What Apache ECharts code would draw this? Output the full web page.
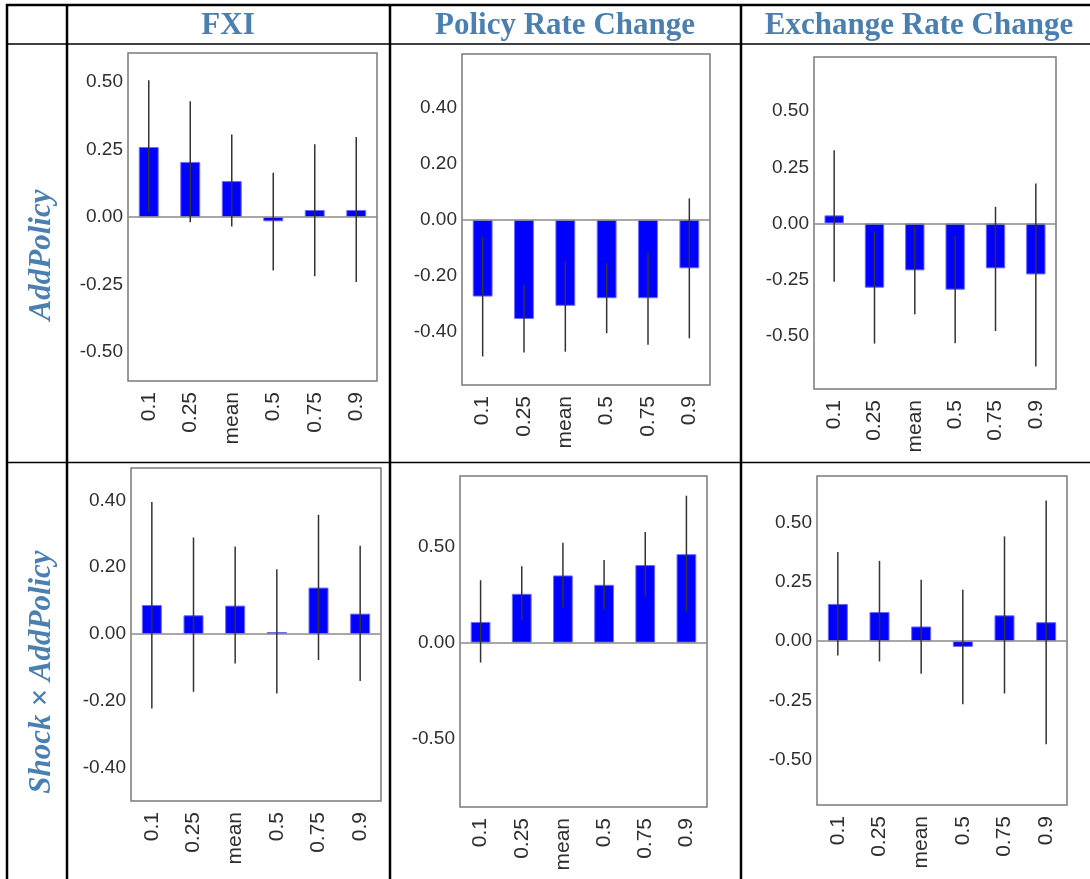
<!DOCTYPE html>
<html><head><meta charset="utf-8">
<script src="https://cdn.jsdelivr.net/npm/echarts@6/dist/echarts.min.js"></script>
<style>html,body{margin:0;padding:0;background:#fff}#c{width:1090px;height:879px}</style>
</head><body><div id="c"></div>
<script>
const categories = ['0.1', '0.25', 'mean', '0.5', '0.75', '0.9'];
const columnTitles = ['FXI', 'Policy Rate Change', 'Exchange Rate Change'];
const rowTitles = ['AddPolicy', 'Shock \u00d7 AddPolicy'];

// Row 1: AddPolicy
const fxiAddEst = [0.259, 0.204, 0.133, -0.016, 0.026, 0.026];
const fxiAddLo  = [0.019, -0.019, -0.035, -0.198, -0.219, -0.241];
const fxiAddHi  = [0.506, 0.428, 0.305, 0.164, 0.269, 0.296];
const fxiAddTicks = [-0.5, -0.25, 0, 0.25, 0.5];

const rateAddEst = [-0.274, -0.354, -0.307, -0.280, -0.280, -0.173];
const rateAddLo  = [-0.488, -0.474, -0.471, -0.405, -0.446, -0.423];
const rateAddHi  = [-0.060, -0.232, -0.145, -0.155, -0.117, 0.077];
const rateAddTicks = [-0.4, -0.2, 0, 0.2, 0.4];

const exAddEst = [0.036, -0.286, -0.209, -0.295, -0.200, -0.227];
const exAddLo  = [-0.259, -0.535, -0.404, -0.533, -0.479, -0.637];
const exAddHi  = [0.326, -0.034, -0.015, -0.056, 0.074, 0.178];
const exAddTicks = [-0.5, -0.25, 0, 0.25, 0.5];

// Row 2: Shock x AddPolicy
const fxiShockEst = [0.087, 0.056, 0.085, 0.006, 0.139, 0.061];
const fxiShockLo  = [-0.223, -0.173, -0.088, -0.178, -0.078, -0.141];
const fxiShockHi  = [0.395, 0.289, 0.262, 0.194, 0.357, 0.264];
const fxiShockTicks = [-0.4, -0.2, 0, 0.2, 0.4];

const rateShockEst = [0.108, 0.255, 0.351, 0.302, 0.405, 0.462];
const rateShockLo  = [-0.104, 0.118, 0.184, 0.174, 0.240, 0.163];
const rateShockHi  = [0.326, 0.399, 0.521, 0.431, 0.578, 0.767];
const rateShockTicks = [-0.5, 0, 0.5];

const exShockEst = [0.157, 0.123, 0.062, -0.024, 0.109, 0.080];
const exShockLo  = [-0.060, -0.085, -0.137, -0.265, -0.220, -0.433];
const exShockHi  = [0.375, 0.338, 0.259, 0.217, 0.441, 0.592];
const exShockTicks = [-0.5, -0.25, 0, 0.25, 0.5];

const panels = [
  {est: fxiAddEst, lo: fxiAddLo, hi: fxiAddHi, ticks: fxiAddTicks, min: -0.607, max: 0.607,
   grid: {left: 128, top: 53, width: 249, height: 328}},
  {est: rateAddEst, lo: rateAddLo, hi: rateAddHi, ticks: rateAddTicks, min: -0.59, max: 0.593,
   grid: {left: 462, top: 54, width: 248, height: 331}},
  {est: exAddEst, lo: exAddLo, hi: exAddHi, ticks: exAddTicks, min: -0.737, max: 0.741,
   grid: {left: 814, top: 57, width: 242, height: 332}},
  {est: fxiShockEst, lo: fxiShockLo, hi: fxiShockHi, ticks: fxiShockTicks, min: -0.5, max: 0.497,
   grid: {left: 131, top: 468, width: 250, height: 333}},
  {est: rateShockEst, lo: rateShockLo, hi: rateShockHi, ticks: rateShockTicks, min: -0.858, max: 0.87,
   grid: {left: 460, top: 476, width: 247, height: 331}},
  {est: exShockEst, lo: exShockLo, hi: exShockHi, ticks: exShockTicks, min: -0.689, max: 0.695,
   grid: {left: 817, top: 476, width: 250, height: 329}}
];

const chart = echarts.init(document.getElementById('c'));
const headColor = '#4a7fb0';
const serif = '"Liberation Serif", "Times New Roman", serif';

const grids = [], xAxes = [], yAxes = [], series = [];
panels.forEach((p, i) => {
  grids.push(Object.assign({show: true, borderColor: '#7a7a7a', borderWidth: 1.5, containLabel: false}, p.grid));
  xAxes.push({
    type: 'category', gridIndex: i, data: categories,
    axisLine: {show: false}, axisTick: {show: false}, splitLine: {show: false},
    axisLabel: {rotate: 90, margin: 11, fontSize: 21, color: '#2e2e2e',
      fontFamily: '"Liberation Sans", Arial, sans-serif', interval: 0}
  });
  yAxes.push({
    type: 'value', gridIndex: i, min: p.min, max: p.max,
    axisLine: {show: false}, splitLine: {show: false},
    axisTick: {show: false, customValues: p.ticks},
    axisLabel: {customValues: p.ticks, margin: 5, fontSize: 19, color: '#2e2e2e',
      fontFamily: '"Liberation Sans", Arial, sans-serif',
      formatter: v => v.toFixed(2)}
  });
  series.push({
    type: 'bar', xAxisIndex: i, yAxisIndex: i, data: p.est, barWidth: '48%',
    itemStyle: {color: '#0000ff', borderColor: '#6b6bff', borderWidth: 1},
    silent: true,
    markLine: {silent: true, symbol: 'none', label: {show: false},
      lineStyle: {color: '#8a8a8a', width: 1.5, type: 'solid'}, data: [{yAxis: 0}]}
  });
  series.push({
    type: 'custom', xAxisIndex: i, yAxisIndex: i, silent: true, z: 10,
    data: categories.map((c, j) => [j, p.lo[j], p.hi[j]]),
    encode: {x: 0, y: [1, 2]},
    renderItem: (params, api) => {
      const a = api.coord([api.value(0), api.value(1)]);
      const b = api.coord([api.value(0), api.value(2)]);
      return {type: 'line', shape: {x1: a[0], y1: a[1], x2: b[0], y2: b[1]},
        style: {stroke: '#333', lineWidth: 1.5}};
    }
  });
});

const lineStyle = w => ({stroke: '#000', lineWidth: w});
const graphics = [
  {type: 'line', shape: {x1: 6, y1: 5, x2: 1090, y2: 5}, style: lineStyle(2.5)},
  {type: 'line', shape: {x1: 6, y1: 44, x2: 1090, y2: 44}, style: lineStyle(1.5)},
  {type: 'line', shape: {x1: 6, y1: 462.5, x2: 1090, y2: 462.5}, style: lineStyle(1.5)},
  {type: 'line', shape: {x1: 7, y1: 4, x2: 7, y2: 879}, style: lineStyle(2.5)},
  {type: 'line', shape: {x1: 67, y1: 4, x2: 67, y2: 879}, style: lineStyle(2.5)},
  {type: 'line', shape: {x1: 390, y1: 4, x2: 390, y2: 879}, style: lineStyle(2.5)},
  {type: 'line', shape: {x1: 741, y1: 4, x2: 741, y2: 879}, style: lineStyle(2.5)}
];
const colCenters = [228, 565, 919];
columnTitles.forEach((t, i) => graphics.push({
  type: 'text', x: colCenters[i], y: 26,
  style: {text: t, font: 'bold 31px ' + serif, fill: headColor, textAlign: 'center', textVerticalAlign: 'middle'}
}));
const rowCenters = [255, 672];
rowTitles.forEach((t, i) => graphics.push({
  type: 'text', x: 42, y: rowCenters[i], rotation: Math.PI / 2,
  style: {text: t, font: 'italic bold 31px ' + serif, fill: headColor, textAlign: 'center', textVerticalAlign: 'middle'}
}));

chart.setOption({
  animation: false,
  backgroundColor: '#fff',
  grid: grids, xAxis: xAxes, yAxis: yAxes, series: series,
  graphic: graphics
});
</script></body></html>
